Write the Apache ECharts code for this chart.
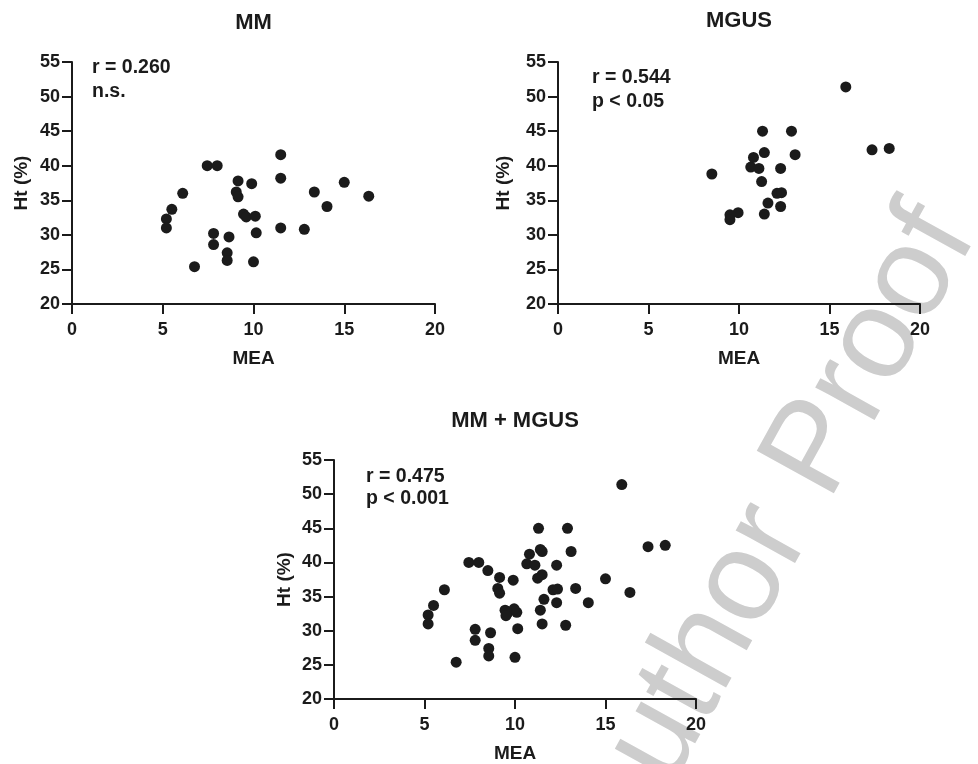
<!DOCTYPE html>
<html>
<head>
<meta charset="utf-8">
<script src="https://cdn.jsdelivr.net/npm/echarts@6/dist/echarts.min.js"></script>
<style>
  html, body { margin: 0; padding: 0; background: #fff; }
  #chart { width: 978px; height: 764px; }
</style>
</head>
<body>
<div id="chart"></div>
<script>
// MEA vs Ht (%) — [MEA, Ht]
var mmPoints = [
  [11.5, 41.6], [7.45, 40.0], [8.0, 40.0], [11.5, 38.2], [9.15, 37.8], [9.9, 37.4],
  [15.0, 37.6], [6.1, 36.0], [9.05, 36.2], [9.15, 35.5], [13.35, 36.2], [16.35, 35.6],
  [14.05, 34.1], [5.5, 33.7], [5.2, 32.3], [5.2, 31.0], [9.45, 33.0], [9.6, 32.6],
  [10.1, 32.7], [11.5, 31.0], [12.8, 30.8], [7.8, 30.2], [10.15, 30.3], [8.65, 29.7],
  [7.8, 28.6], [8.55, 27.4], [8.55, 26.3], [10.0, 26.1], [6.75, 25.4]
];
var mgusPoints = [
  [15.9, 51.4], [11.3, 45.0], [12.9, 45.0], [17.35, 42.3], [18.3, 42.5], [11.4, 41.9],
  [13.1, 41.6], [10.8, 41.2], [10.65, 39.8], [11.1, 39.6], [12.3, 39.6], [8.5, 38.8],
  [11.25, 37.7], [12.1, 36.0], [12.35, 36.1], [11.6, 34.6], [12.3, 34.1], [9.95, 33.2],
  [9.5, 32.9], [9.5, 32.2], [11.4, 33.0]
];
var allPoints = mmPoints.concat(mgusPoints);

var panelTitles = ['MM', 'MGUS', 'MM + MGUS'];
var statLines = [['r = 0.260', 'n.s.'], ['r = 0.544', 'p < 0.05'], ['r = 0.475', 'p < 0.001']];
var xTicks = { min: 0, max: 20, interval: 5 };
var yTicks = { min: 20, max: 55, interval: 5 };
var xName = 'MEA';
var yName = 'Ht (%)';

var FONT = 'Liberation Sans, Arial, Helvetica, sans-serif';
var INK = '#1b1b1b';

// panel layout (pixels)
var panels = [
  { left: 72, top: 62, width: 363, height: 242, yGap: 50, titleY: 23, stat: [92, 67.5, 92] },
  { left: 558, top: 62, width: 362, height: 242, yGap: 54, titleY: 20.5, stat: [592, 78, 102] },
  { left: 334, top: 460, width: 362, height: 242, yGap: 49, titleY: 421, stat: [366, 476.5, 498.5] }
];
var seriesData = [mmPoints, mgusPoints, allPoints];

var chart = echarts.init(document.getElementById('chart'));

var grids = [], xAxes = [], yAxes = [], series = [], graphics = [];

// "Author Proof" watermark, behind everything
graphics.push({
  type: 'text', x: 772, y: 532, rotation: 61 * Math.PI / 180, z: -10,
  style: {
    text: 'Author Proof', fill: '#cdcdcd', font: 'normal 128px ' + FONT,
    textAlign: 'center', textVerticalAlign: 'middle'
  }
});

panels.forEach(function (p, i) {
  grids.push({ left: p.left, top: p.top, width: p.width, height: p.height });
  xAxes.push({
    gridIndex: i, type: 'value', min: xTicks.min, max: xTicks.max, interval: xTicks.interval,
    name: xName, nameLocation: 'middle', nameGap: 54.5,
    nameTextStyle: { fontFamily: FONT, fontWeight: 'bold', fontSize: 19, color: INK, verticalAlign: 'middle' },
    axisLine: { onZero: false, lineStyle: { color: INK, width: 2 } },
    axisTick: { length: 10, lineStyle: { color: INK, width: 2 } },
    axisLabel: { margin: 26.5, verticalAlign: 'middle', fontFamily: FONT, fontWeight: 'bold', fontSize: 18, color: INK },
    splitLine: { show: false }
  });
  yAxes.push({
    gridIndex: i, type: 'value', min: yTicks.min, max: yTicks.max, interval: yTicks.interval,
    name: yName, nameLocation: 'middle', nameGap: p.yGap, nameRotate: 90,
    nameTextStyle: { fontFamily: FONT, fontWeight: 'bold', fontSize: 19, color: INK, verticalAlign: 'middle' },
    axisLine: { show: true, onZero: false, lineStyle: { color: INK, width: 2 } },
    axisTick: { show: true, length: 10, lineStyle: { color: INK, width: 2 } },
    axisLabel: { margin: 12, fontFamily: FONT, fontWeight: 'bold', fontSize: 18, color: INK },
    splitLine: { show: false }
  });
  series.push({
    type: 'scatter', xAxisIndex: i, yAxisIndex: i, data: seriesData[i],
    symbolSize: 11, itemStyle: { color: INK, opacity: 1 }, z: 3
  });
  graphics.push({
    type: 'text', x: p.left + p.width / 2, y: p.titleY,
    style: { text: panelTitles[i], fill: INK, font: 'bold 22px ' + FONT, textAlign: 'center', textVerticalAlign: 'middle' }
  });
  graphics.push({
    type: 'text', x: p.stat[0], y: p.stat[1],
    style: { text: statLines[i][0], fill: INK, font: 'bold 19.5px ' + FONT, textAlign: 'left', textVerticalAlign: 'middle' }
  });
  graphics.push({
    type: 'text', x: p.stat[0], y: p.stat[2],
    style: { text: statLines[i][1], fill: INK, font: 'bold 19.5px ' + FONT, textAlign: 'left', textVerticalAlign: 'middle' }
  });
});

chart.setOption({
  animation: false,
  backgroundColor: '#ffffff',
  grid: grids,
  xAxis: xAxes,
  yAxis: yAxes,
  series: series,
  graphic: graphics
});
</script>
</body>
</html>
